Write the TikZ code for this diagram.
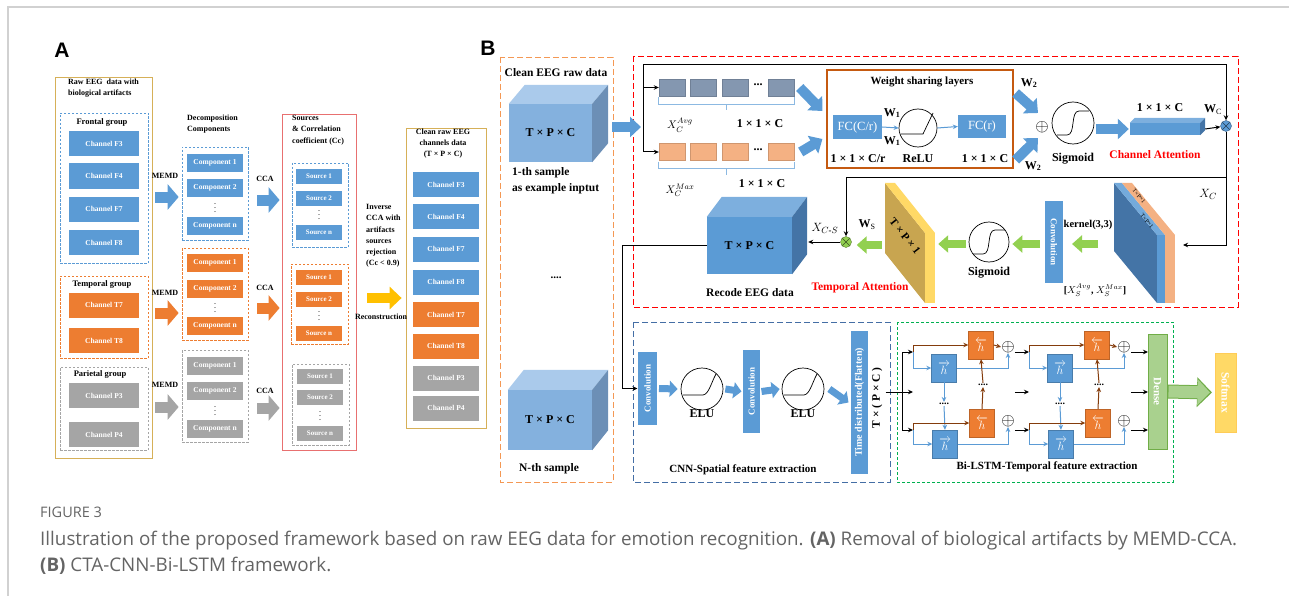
\documentclass[tikz,border=0pt]{standalone}
\usepackage{amsmath}
\usepackage{fontspec}
\setmainfont{Liberation Serif}
\newfontfamily\panelfont{Liberation Sans}
\newfontfamily\capfont{Open Sans}
\usetikzlibrary{arrows.meta,positioning,calc}
\definecolor{chblue}{RGB}{91,155,213}
\definecolor{chorange}{RGB}{237,125,49}
\definecolor{chgray}{RGB}{165,165,165}
\definecolor{goldline}{RGB}{214,176,88}
\definecolor{srcred}{RGB}{232,112,112}
\definecolor{inorange}{RGB}{244,152,84}
\definecolor{attred}{RGB}{255,0,0}
\definecolor{cnnblue}{RGB}{68,110,165}
\definecolor{lstmgreen}{RGB}{0,176,80}
\definecolor{wsbrown}{RGB}{197,90,17}
\definecolor{avgblue}{RGB}{132,151,176}
\definecolor{maxpeach}{RGB}{244,177,131}
\definecolor{hbrown}{RGB}{132,60,12}
\definecolor{arrgreen}{RGB}{146,208,80}
\definecolor{densegreen}{RGB}{169,209,142}
\definecolor{darkgreen}{RGB}{112,173,71}
\definecolor{softyellow}{RGB}{255,217,102}
\definecolor{recyellow}{RGB}{255,192,0}
\definecolor{taface}{RGB}{200,165,80}
\definecolor{captext}{RGB}{100,100,100}
\definecolor{cubetop}{RGB}{125,175,222}
\definecolor{cubeside}{RGB}{68,116,166}
\definecolor{incubefront}{RGB}{132,177,222}
\definecolor{incubetop}{RGB}{170,202,235}
\definecolor{incubeside}{RGB}{108,143,182}

\newcommand{\fsz}[2]{\fontsize{#1}{#2}\selectfont}
\newcommand{\cubefaces}[5]{%
  \fill[#4] (#1.north west) -- ++(#2,#3) -- ($(#1.north east)+(#2,#3)$) -- (#1.north east) -- cycle;
  \fill[#5] (#1.north east) -- ($(#1.north east)+(#2,#3)$) -- ($(#1.south east)+(#2,#3)$) -- (#1.south east) -- cycle;}
\newcommand{\sigcurve}[1]{%
  \draw[line width=0.7pt] ($(#1)+(-16,12)$) -- ($(#1)+(-6,12)$) .. controls ($(#1)+(3,12)$) and ($(#1)+(-3,-12)$) .. ($(#1)+(6,-12)$) -- ($(#1)+(16,-12)$);}
\newcommand{\elucurve}[1]{%
  \draw[line width=0.7pt] ($(#1)+(-19,6)$) -- ($(#1)+(1,6)$) .. controls ($(#1)+(7,5)$) and ($(#1)+(9,-6)$) .. ($(#1)+(14,-15)$);}

\begin{document}
\begin{tikzpicture}[x=1pt, y=-1pt,
  lbl/.style={font=\fsz{#1}{#1}\bfseries, inner sep=1pt},
  chan/.style={fill=#1, text=white, minimum width=70pt, minimum height=25pt, inner sep=0, font=\fsz{7.5}{7.5}\bfseries},
  comp/.style={fill=#1, text=white, minimum width=56pt, minimum height=18pt, inner sep=0, font=\fsz{7.5}{7.5}\bfseries},
  src/.style={fill=#1, text=white, minimum width=46pt, minimum height=15pt, inner sep=0, font=\fsz{7}{7}\bfseries},
  grp/.style={draw=#1, dash pattern=on 2.5pt off 1.5pt, line width=0.7pt, inner sep=0},
  frame/.style={draw=#1, dash pattern=on 6pt off 3pt, line width=0.9pt},
  memdarrow/.style={line width=11pt, #1, -{Triangle[width=25pt,length=11pt]}},
  fatarrow/.style={line width=10pt, #1, -{Triangle[width=20pt,length=11pt]}},
  smallarrow/.style={line width=7pt, chblue, -{Triangle[width=16pt,length=8pt]}},
  greenarrow/.style={line width=8pt, arrgreen, -{Triangle[width=17pt,length=10pt]}},
  thinarrow/.style={line width=1pt, black, -{Stealth[length=5pt,width=4.5pt]}},
  lbarrow/.style={line width=1pt, chblue, -{Stealth[length=5pt,width=4.5pt]}},
  brarrow/.style={line width=1pt, hbrown, -{Stealth[length=5pt,width=4.5pt]}},
  brk/.style={chblue!70, line width=0.8pt},
  blk/.style={fill=#1, draw=#1!85!black, minimum width=26pt, minimum height=17pt, inner sep=0},
  fcbox/.style={fill=chblue, text=white, minimum width=49pt, minimum height=24pt, inner sep=0, font=\fsz{12.5}{12.5}},
  cubef/.style={fill=#1, font=\fsz{12}{12}\bfseries, inner sep=0},
  rotbox/.style={fill=chblue, text=white, inner sep=0, font=\fsz{9}{9}\bfseries},
  hbox/.style={fill=#1, draw=#1!80!black, text=white, minimum width=25pt, minimum height=28pt, inner sep=0, font=\fsz{12}{12}},
  fn/.style={circle, draw, line width=0.7pt, minimum size=#1, inner sep=0},
  mult/.style={circle, draw=#1!60!black, fill=#1, minimum size=11pt, inner sep=0,
    path picture={\draw[#1!40!black] (path picture bounding box.north west) -- (path picture bounding box.south east)
      (path picture bounding box.north east) -- (path picture bounding box.south west);}},
]
\useasboundingbox (0,0) rectangle (1289,596);
\draw[black!18, line width=1.5pt] (8,596) -- (8,7) -- (1289,7);

% Panel A: raw channels
\node[font=\panelfont\bfseries\fsz{21}{21}] (labA) at (62,50) {A};
\node[draw=goldline, line width=0.8pt, minimum width=97pt, minimum height=381pt] (raw) at (103.5,267.5) {};
\node[font=\fsz{8}{11}\bfseries, anchor=north west, align=left, inner sep=1pt] (rawtitle) at (67,78) {Raw EEG\ \ data with\\biological artifacts};
\node[grp=chblue, minimum width=88pt, minimum height=150pt] (frontal) at (104,188) {};
\node[lbl=8.5] (frontaltitle) at (102,122) {Frontal group};
\foreach \n/\y in {F3/143.5,F4/176,F7/209,F8/242.5} {
  \node[chan=chblue] (raw\n) at (104,\y) {Channel \n};
}
\node[grp=chorange, minimum width=88pt, minimum height=82pt] (temporal) at (104,317) {};
\node[lbl=8.5] (temporaltitle) at (102,284) {Temporal group};
\foreach \n/\y in {T7/305,T8/340.5} {
  \node[chan=chorange] (raw\n) at (104,\y) {Channel \n};
}
\node[grp=chgray, minimum width=88pt, minimum height=83pt] (parietal) at (104,408.5) {};
\node[lbl=8.5] (parietaltitle) at (100,374) {Parietal group};
\foreach \n/\y in {P3/395.5,P4/434.5} {
  \node[chan=chgray] (raw\n) at (104,\y) {Channel \n};
}

% Panel A: decomposition components
\node[font=\fsz{8}{11}\bfseries, anchor=north west, align=left, inner sep=1pt] (comptitle) at (186,114) {Decomposition\\Components};
\node[grp=chblue, minimum width=66pt, minimum height=93pt] (fcomps) at (215,193.5) {};
\node[grp=chorange, minimum width=66pt, minimum height=92pt] (tcomps) at (215,294) {};
\node[grp=chgray, minimum width=66pt, minimum height=92pt] (pcomps) at (215,396) {};
\foreach \g/\col/\ya/\yb/\yd/\yn in {f/chblue/163/188/205/226, t/chorange/263/289/305/326, p/chgray/366/391/408/429} {
  \node[comp=\col] (\g-c1) at (215,\ya) {Component 1};
  \node[comp=\col] (\g-c2) at (215,\yb) {Component 2};
  \node[lbl=6] (\g-cd) at (215,\yd) {$\vdots$};
  \node[comp=\col] (\g-cn) at (215,\yn) {Component n};
}

% Panel A: sources
\node[draw=srcred, line width=0.8pt, minimum width=74pt, minimum height=336pt] (srcbox) at (319,282) {};
\node[font=\fsz{8}{11.5}\bfseries, anchor=north west, align=left, inner sep=1pt] (srctitle) at (291,114) {Sources\\\& Correlation\\coefficient (Cc)};
\node[grp=chblue, minimum width=56pt, minimum height=84pt] (fsrcs) at (320,205) {};
\node[grp=chorange, minimum width=57pt, minimum height=80pt] (tsrcs) at (319.5,304) {};
\node[grp=chgray, minimum width=57pt, minimum height=81pt] (psrcs) at (320.5,404.5) {};
\foreach \g/\col/\x/\ya/\yb/\yd/\yn in {f/chblue/319/176.5/198/212/232.5, t/chorange/319/277.5/299/313/333, p/chgray/320/376.5/397.5/413/433.5} {
  \node[src=\col] (\g-s1) at (\x,\ya) {Source 1};
  \node[src=\col] (\g-s2) at (\x,\yb) {Source 2};
  \node[lbl=6] (\g-sd) at (\x,\yd) {$\vdots$};
  \node[src=\col] (\g-sn) at (\x,\yn) {Source n};
}

% Panel A: MEMD and CCA steps
\foreach \grp/\g/\col/\ly/\dy/\cy/\cdy in {frontal/f/chblue/176/-3.5/179/-6.5, temporal/t/chorange/293/-19/288/-14, parietal/p/chgray/385/-11/391/-12} {
  \node[lbl=8] (\g-memd) at (165,\ly) {MEMD};
  \draw[memdarrow=\col] ([shift={(7pt,\dy pt)}]\grp.east |- \g comps.center) -- ([shift={(-3pt,\dy pt)}]\g comps.west);
  \node[lbl=8] (\g-cca) at (265,\cy) {CCA};
  \draw[memdarrow=\col] ([shift={(9pt,\cdy pt)}]\g comps.east) -- ([shift={(-2pt,\cdy pt)}]srcbox.west |- \g comps.center);
}

% Panel A: reconstruction
\node[font=\fsz{8}{11.3}\bfseries, anchor=north west, align=left, inner sep=1pt] (invtxt) at (365,203) {Inverse\\CCA with\\artifacts\\sources\\rejection\\(Cc < 0.9)};
\node[draw=goldline, line width=0.8pt, minimum width=80pt, minimum height=300pt] (clean) at (446,278) {};
\draw[line width=10pt, recyellow, -{Triangle[width=22pt,length=12pt]}] ([shift={(11pt,-16pt)}]srcbox.east) -- ([shift={(-4pt,-20pt)}]clean.west);
\node[lbl=8] (recon) at (381,317) {Reconstruction};
\node[font=\fsz{8}{11}\bfseries, align=center, anchor=north, inner sep=1pt] (cleantitle) at (443,128) {Clean raw EEG\\channels data\\(T × P × C)};
\foreach \n/\col/\y in {F3/chblue/184.5, F4/chblue/216.5, F7/chblue/249, F8/chblue/282, T7/chorange/314.5, T8/chorange/346, P3/chgray/378, P4/chgray/408} {
  \node[chan=\col, minimum width=66pt] (out\n) at (446,\y) {Channel \n};
}

% Panel B: input samples
\node[font=\panelfont\bfseries\fsz{21}{21}] (labB) at (488,48) {B};
\draw[frame=inorange] (500,57) rectangle (613,482);
\node[lbl=11.5] (cleanin) at (556,73) {Clean EEG raw data};
\node[cubef=incubefront, minimum width=83pt, minimum height=58pt] (in1) at (550.5,133) {T × P × C};
\cubefaces{in1}{16}{-19}{incubetop}{incubeside}
\node[font=\fsz{11.5}{16}\bfseries, anchor=north west, align=left, inner sep=1pt] (in1txt) at (511,166) {1-th sample\\as example inptut};
\node[lbl=11] (indots) at (556,278) {....};
\node[cubef=incubefront, minimum width=84pt, minimum height=60pt] (inN) at (550,420) {T × P × C};
\cubefaces{inN}{16}{-20}{incubetop}{incubeside}
\node[lbl=11.5] (inNtxt) at (549,469) {N-th sample};

% Channel attention
\draw[frame=attred] (633,56) rectangle (1238,307);
\coordinate (split) at (643,127);
\coordinate (topR) at (1226,65);
\draw[fatarrow=chblue] ([xshift=20pt]in1.east |- split) -- ([xshift=-2pt]split);
\foreach \i/\x in {1/672,2/703,3/735,4/781.5} {
  \node[blk=avgblue] (avg\i) at (\x,87.5) {};
  \node[blk=maxpeach] (max\i) at (\x,152) {};
}
\node[lbl=12] (avgdots) at (758,85) {...};
\node[lbl=12] (maxdots) at (758,150) {...};
\draw[thinarrow] (split) |- (avg1.west);
\draw[thinarrow] (split) |- (max1.west);
\draw[brk] ([yshift=-1pt]avg1.south west) -- ++(0,7) -| ([yshift=-1pt]avg4.south east);
\draw[brk] ($(avg1.south west)!0.5!(avg4.south east)+(0,8)$) -- ++(0,6);
\draw[brk] ([yshift=-1pt]max1.south west) -- ++(0,7) -| ([yshift=-1pt]max4.south east);
\draw[brk] ($(max1.south west)!0.5!(max4.south east)+(0,8)$) -- ++(0,6);
\node[lbl=11] (avglab) at (680,125) {$X_C^{Avg}$};
\node[lbl=12] (avgdim) at (760,124) {1 × 1 × C};
\node[lbl=11] (maxlab) at (680,190) {$X_C^{Max}$};
\node[lbl=12] (maxdim) at (762,184) {1 × 1 × C};

\node[draw=wsbrown, line width=1.2pt, minimum width=186pt, minimum height=98pt] (ws) at (920,119) {};
\draw[fatarrow=chblue] ([xshift=5pt]avg4.east) -- ([shift={(-4pt,8pt)}]ws.west);
\draw[fatarrow=chblue] ([xshift=6pt]max4.east) -- ([shift={(-4pt,-20pt)}]ws.west);
\node[lbl=11] (wstitle) at (922,82) {Weight sharing layers};
\node[fcbox] (fc1) at (857.5,127) {FC(C/r)};
\node[fn=38pt] (relu) at (918,128) {};
\draw[line width=0.7pt] ($(relu)+(-17,6)$) -- ($(relu)+(5,6)$) -- ($(relu)+(15,-15)$);
\node[fcbox, minimum width=48pt, minimum height=23pt] (fc2) at (982,126.5) {FC(r)};
\draw[lbarrow] (fc1.east) -- (relu.west);
\draw[lbarrow] (relu.east) -- (fc2.west);
\node[lbl=12] (w1a) at (892,113) {W$_\mathbf{1}$};
\node[lbl=12] (w1b) at (892,141) {W$_\mathbf{1}$};
\node[lbl=12] (dimcr) at (858,159) {1 × 1 × C/r};
\node[lbl=12] (relulab) at (918,159) {ReLU};
\node[lbl=12] (dimc) at (985,159) {1 × 1 × C};

\node[font=\fsz{19}{19}, inner sep=0] (plus1) at (1042,127) {$\oplus$};
\draw[fatarrow=chblue] ([shift={(2pt,26pt)}]ws.east) -- ([shift={(-4pt,14pt)}]plus1.center);
\draw[fatarrow=chblue] ([shift={(2pt,-41pt)}]ws.east) -- ([shift={(-4pt,-11pt)}]plus1.center);
\node[lbl=12] (w2a) at (1029,83) {W$_\mathbf{2}$};
\node[lbl=12] (w2b) at (1033,166) {W$_\mathbf{2}$};
\node[fn=42pt] (sig1) at (1073,123) {};
\sigcurve{sig1}
\node[lbl=12] (sig1lab) at (1073,159) {Sigmoid};
\node[fill=chblue, minimum width=70pt, minimum height=12pt, inner sep=0] (ca) at (1165,129) {};
\cubefaces{ca}{5}{-5}{cubetop}{cubeside}
\draw[fatarrow=chblue] ([xshift=2pt]sig1.east |- ca.west) -- ([xshift=-1pt]ca.west);
\node[lbl=12] (cadim) at (1160,108) {1 × 1 × C};
\node[lbl=12] (wclab) at (1213,110) {W$_\mathrm{C}$};
\node[lbl=11.5, text=attred] (calab) at (1155,155) {Channel Attention};
\node[mult=chblue] (wc) at (1226,126) {};
\draw[thinarrow] ([xshift=5pt]ca.east) -- (wc);
\draw[thinarrow] (split) |- (topR) -- (wc);

% Temporal attention
\coordinate (jc) at (1226,178);
\coordinate (xcin) at (1183,245);
\coordinate (xsl) at (1114,244);
\coordinate (tal) at (885,245);
\draw[thinarrow] (wc) |- (xcin);
\node[lbl=13] (xclab) at (1208,194) {$X_C$};
\node[mult=arrgreen] (wsx) at (846,242) {};
\draw[thinarrow] (jc) -| (wsx);

\fill[cubeside] (1157,235) -- (1157,303) -- (1114,251) -- (1114,183) -- cycle;
\fill[chblue!85] (1114,183) -- (1122,183) -- (1165,235) -- (1157,235) -- cycle;
\fill[maxpeach] (1122,183) -- (1132,183) -- (1175,235) -- (1165,235) -- cycle;
\node[fill=chblue, minimum width=8pt, minimum height=68pt, inner sep=0] (xsb) at (1161,269) {};
\node[fill=maxpeach, minimum width=10pt, minimum height=68pt, inner sep=0] (xsp) at (1170,269) {};
\node[font=\fsz{6}{6}, rotate=-50, inner sep=0] (xsbt) at (1147,221) {T×P×1};
\node[font=\fsz{6}{6}, rotate=-50, inner sep=0] (xspt) at (1139,196) {T×P×1};
\node[lbl=10] (xslab) at (1095,290) {[$X_S^{Avg}$, $X_S^{Max}$]};

\node[rotbox, rotate=-90, minimum width=82pt, minimum height=18pt] (conv3) at (1054,242) {Convolution};
\node[lbl=10.5] (kern) at (1088,225) {kernel(3,3)};
\draw[greenarrow] ([xshift=-16pt]xsl) -- ([xshift=18pt]conv3.center |- xsl);
\node[fn=40pt] (sig2) at (989,242) {};
\sigcurve{sig2}
\node[lbl=12] (sig2lab) at (989,273) {Sigmoid};
\draw[greenarrow] ([xshift=-14pt]conv3.center |- xsl) -- ([xshift=3pt]sig2.east |- xsl);

\fill[taface] (925,233) -- (925,303) -- (885,253) -- (885,183) -- cycle;
\fill[softyellow] (885,183) -- (895,183) -- (935,233) -- (925,233) -- cycle;
\node[fill=softyellow, minimum width=10pt, minimum height=70pt, inner sep=0] (ta) at (930,268) {};
\node[lbl=11, rotate=-52] (talab) at (905,236) {T × P × 1};
\draw[greenarrow] ([xshift=-3pt]sig2.west |- xsl) -- ([xshift=3pt]ta.east |- xsl);
\draw[greenarrow] ([xshift=-3pt]tal) -- ([xshift=5pt]wsx.east |- tal);
\node[lbl=12] (wslab) at (867,225) {W$_\mathrm{S}$};

\node[cubef=chblue, minimum width=85pt, minimum height=57pt] (rc) at (749.5,245.5) {T × P × C};
\cubefaces{rc}{15}{-20}{cubetop}{cubeside}
\draw[thinarrow] (wsx) -- ([xshift=16pt]rc.east |- wsx);
\node[lbl=12.5] (xcslab) at (825,228) {$X_{C\text{-}S}$};
\node[lbl=11.5] (rclab) at (750,293) {Recode EEG data};
\node[lbl=11.5, text=attred] (tattlab) at (860,288) {Temporal Attention};

% CNN spatial feature extraction
\draw[frame=cnnblue] (633,322) rectangle (890,482);
\node[rotbox, rotate=90, minimum width=73pt, minimum height=19pt] (conv1) at (647.5,388.5) {Convolution};
\draw[thinarrow] (rc.west) -- ++(-84,0) |- ([xshift=-10pt]conv1.center);
\node[fn=42pt] (elu1) at (702,389) {};
\elucurve{elu1}
\node[lbl=12] (elu1lab) at (702,414) {ELU};
\node[rotbox, rotate=90, minimum width=83pt, minimum height=17pt] (conv2) at (751.5,391.5) {Convolution};
\node[fn=42pt] (elu2) at (803,389) {};
\elucurve{elu2}
\node[lbl=12] (elu2lab) at (803,414) {ELU};
\node[rotbox, rotate=90, minimum width=143pt, minimum height=17pt, font=\fsz{10}{10}\bfseries] (td) at (859.5,402.5) {Time distributed(Flatten)};
\node[lbl=11.5, rotate=90] (tdlab) at (877,398) {T × ( P × C )};
\draw[smallarrow] ([xshift=11.5pt]conv1.center) -- ([xshift=-3pt]elu1.west);
\draw[smallarrow] ([xshift=2pt]elu1.east) -- ([xshift=-10pt]conv2.center);
\draw[smallarrow] ([xshift=10pt]conv2.center) -- ([xshift=-2pt]elu2.west);
\draw[smallarrow] ([xshift=5pt]elu2.east) -- ([xshift=-11pt]td.center);
\node[lbl=11] (cnnlab) at (743,470) {CNN-Spatial feature extraction};

% Bi-LSTM temporal feature extraction
\draw[lstmgreen, dash pattern=on 3pt off 2pt, line width=0.9pt] (897,322) rectangle (1173,482);
\foreach \i/\ox in {1/0,2/116} {
  \coordinate (inU\i) at (913+\ox,352);
  \coordinate (inL\i) at (913+\ox,430);
  \node[hbox=chorange] (bwU\i) at (981+\ox,345) {$\overleftarrow{h}$};
  \node[hbox=chblue] (fwU\i) at (944+\ox,368) {$\overrightarrow{h}$};
  \node[font=\fsz{19}{19}, inner sep=0] (plU\i) at (1008+\ox,347) {$\oplus$};
  \node[lbl=10] (dU\i) at (983+\ox,385) {....};
  \node[lbl=10] (dL\i) at (944+\ox,404) {....};
  \node[hbox=chorange] (bwL\i) at (982+\ox,423) {$\overleftarrow{h}$};
  \node[hbox=chblue] (fwL\i) at (945+\ox,444) {$\overrightarrow{h}$};
  \node[font=\fsz{19}{19}, inner sep=0] (plL\i) at (1008+\ox,421) {$\oplus$};
  \draw[brarrow] (inU\i) |- (bwU\i.west);
  \draw[lbarrow] (inU\i) |- (fwU\i.west);
  \draw[brarrow] (bwU\i.east) -- (plU\i.west);
  \draw[lbarrow] (fwU\i.east) -| (plU\i.south);
  \draw[lbarrow] (fwU\i.south) -- (dL\i.north);
  \draw[brarrow] (dU\i.north) -- (bwU\i.south);
  \draw[lbarrow] (dL\i.south) -- (fwL\i.north);
  \draw[brarrow] (bwL\i.north) -- (dU\i.south);
  \draw[brarrow] (inL\i) |- (bwL\i.west);
  \draw[lbarrow] (inL\i) |- (fwL\i.west);
  \draw[lbarrow] (fwL\i.east) -| (plL\i.south);
}
\coordinate (lstmin) at (902,392);
\draw[thinarrow] ([xshift=26pt]td.center |- lstmin) -- ([xshift=11pt]lstmin);
\draw[thinarrow] (lstmin) |- (inU1);
\draw[thinarrow] (lstmin) |- (inL1);
\node[rotate=-90, fill=densegreen, draw=darkgreen, minimum width=115pt, minimum height=19pt, text=white, font=\fsz{11}{11}\bfseries, inner sep=0] (dense) at (1157.5,391.5) {Dense};
\draw[thinarrow] (plU1.east |- inU2) -- (inU2);
\draw[thinarrow] (plL1.east |- inL2) -- (inL2);
\draw[thinarrow] (plU1.east |- lstmin) -- (inU2 |- lstmin);
\draw[thinarrow] (plU2.east |- inU2) -- ([xshift=-9.5pt]dense.center |- inU2);
\draw[thinarrow] (plL2.east |- inL2) -- ([xshift=-9.5pt]dense.center |- inL2);
\draw[thinarrow] (plU2.east |- lstmin) -- ([xshift=-9.5pt]dense.center |- lstmin);
\node[rotate=-90, fill=softyellow, draw=softyellow!85!orange, minimum width=79pt, minimum height=21pt, text=white, font=\fsz{11.5}{11.5}\bfseries, inner sep=0] (soft) at (1225.5,392.5) {Softmax};
\draw[line width=14pt, darkgreen, -{Triangle[width=29pt,length=15pt]}] ([xshift=10pt]dense.center) -- ([xshift=-13.5pt]soft.center);
\draw[line width=12pt, densegreen, -{Triangle[width=25pt,length=12.5pt]}] ([xshift=11pt]dense.center) -- ([xshift=-15.5pt]soft.center);
\node[lbl=11] (lstmlab) at (1047,467) {Bi-LSTM-Temporal feature extraction};

% Caption
\node[font=\capfont\fsz{14.5}{14.5}, text=captext, anchor=west, inner sep=0] (fig) at (40,512) {FIGURE 3};
\node[font=\capfont\fsz{18.8}{18.8}, text=captext, anchor=west, inner sep=0] (cap1) at (40,541) {Illustration of the proposed framework based on raw EEG data for emotion recognition. \textbf{(A)} Removal of biological artifacts by MEMD-CCA.};
\node[font=\capfont\fsz{18.8}{18.8}, text=captext, anchor=west, inner sep=0] (cap2) at (40,566) {\textbf{(B)} CTA-CNN-Bi-LSTM framework.};
\end{tikzpicture}
\end{document}
